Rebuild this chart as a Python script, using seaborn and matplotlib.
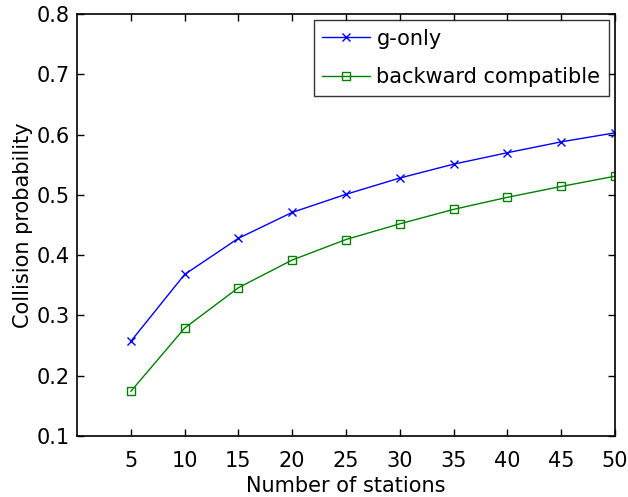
import pandas as pd
import matplotlib
matplotlib.use('Agg')
import matplotlib.pyplot as plt
import seaborn as sns

# values
stations = [5, 10, 15, 20, 25, 30, 35, 40, 45, 50]
g_only = [0.257, 0.368, 0.428, 0.471, 0.501, 0.528, 0.551, 0.570, 0.588, 0.603]
backward = [0.174, 0.279, 0.346, 0.392, 0.426, 0.452, 0.476, 0.496, 0.514, 0.531]

df = pd.DataFrame({'stations': stations, 'g-only': g_only,
                   'backward compatible': backward})

sns.set_style('ticks')
plt.rcParams['font.family'] = ['DejaVu Sans']
plt.rcParams['text.color'] = 'black'
plt.rcParams['axes.labelcolor'] = 'black'
plt.rcParams['xtick.color'] = 'black'
plt.rcParams['ytick.color'] = 'black'

fig = plt.figure(figsize=(6.28, 4.97), dpi=100)
ax = fig.add_axes([0.1226, 0.1227, 0.8567, 0.849])

sns.lineplot(data=df, x='stations', y='g-only', color='#0000ff', marker='x',
             markersize=6, markeredgecolor='#0000ff', markeredgewidth=1.0,
             linewidth=1.0, label='g-only', ax=ax)
sns.lineplot(data=df, x='stations', y='backward compatible', color='#008000',
             marker='s', markersize=6, markerfacecolor='none',
             markeredgecolor='#008000', markeredgewidth=1.0, linewidth=1.0,
             label='backward compatible', ax=ax)

ax.set_xlim(0, 50)
ax.set_ylim(0.1, 0.8)
ax.set_xticks(stations)
ax.set_yticks([0.1, 0.2, 0.3, 0.4, 0.5, 0.6, 0.7, 0.8])
ax.tick_params(direction='in', top=True, right=True, length=5, width=1,
               labelsize=15, pad=5)
ax.tick_params(axis='x', pad=10.5)
for s in ax.spines.values():
    s.set_linewidth(1.2)
    s.set_color('black')

ax.set_xlabel('Number of stations', fontsize=15, labelpad=4)
ax.set_ylabel('Collision probability', fontsize=15, labelpad=3)

leg = ax.legend(loc='upper right', fontsize=15, frameon=True, fancybox=False,
                edgecolor='black', borderaxespad=0.3, handlelength=2.3,
                handletextpad=0.3, borderpad=0.4, labelspacing=0.9)
leg.get_frame().set_linewidth(1.0)

fig.savefig('out.png', dpi=100)
